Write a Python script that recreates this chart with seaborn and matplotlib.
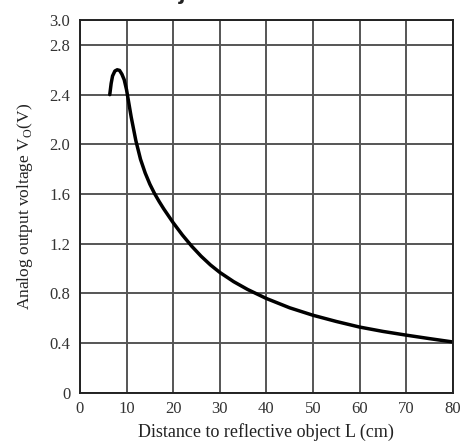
import numpy as np
import pandas as pd
import matplotlib
matplotlib.use("Agg")
import matplotlib.pyplot as plt
import seaborn as sns

distance_cm = [6.4, 6.7, 7.0, 7.5, 8.0, 8.5, 9.0, 9.5, 10, 10.5, 11, 12, 13,
               14, 15, 16, 17, 18, 20, 22, 24, 26, 28, 30, 33, 36, 40, 45, 50,
               55, 60, 65, 70, 75, 80]
voltage_v = [2.40, 2.49, 2.55, 2.59, 2.60, 2.595, 2.565, 2.52, 2.44, 2.33,
             2.22, 2.03, 1.88, 1.77, 1.68, 1.605, 1.54, 1.48, 1.37, 1.27,
             1.18, 1.10, 1.03, 0.97, 0.895, 0.832, 0.76, 0.685, 0.625, 0.575,
             0.53, 0.495, 0.465, 0.437, 0.41]

x_ticks = list(range(0, 81, 10))
y_ticks = [0, 0.4, 0.8, 1.2, 1.6, 2.0, 2.4, 2.8, 3.0]
y_tick_labels = ["0", "0.4", "0.8", "1.2", "1.6", "2.0", "2.4", "2.8", "3.0"]

sns.set_style("white")
plt.rcParams['font.family'] = ['Liberation Serif', 'DejaVu Serif']

df = pd.DataFrame({"L": distance_cm, "V": voltage_v})

fig = plt.figure(figsize=(4.62, 4.46), dpi=100)
ax = fig.add_axes([0.173, 0.119, 0.807, 0.836])

sns.lineplot(data=df, x="L", y="V", ax=ax, color="black", linewidth=2.5,
             estimator=None, sort=False)

ax.set_xlim(0, 80)
ax.set_ylim(0, 3.0)
ax.set_xticks(x_ticks)
ax.set_xticklabels([str(t) for t in x_ticks], fontsize=12, color="#333333")
ax.set_yticks(y_ticks)
ax.set_yticklabels(y_tick_labels, fontsize=12, color="#333333")
ax.tick_params(axis="x", length=0, pad=6)
ax.tick_params(axis="y", length=0, pad=7)
ax.grid(True, color="#555555", linewidth=1.4)
for s in ax.spines.values():
    s.set_color("#222222")
    s.set_linewidth(1.4)

ax.set_xlabel("Distance to reflective object L (cm)", fontsize=13, color="#222222",
              labelpad=4)
ax.set_ylabel("Analog output voltage V$_\\mathregular{O}$(V)", fontsize=12.5,
              color="#222222", labelpad=10)

# heading cut off by the top edge of the image
fig.text(0.475, 0.992, "Distance to Reflective Object", ha="right", va="bottom",
         fontsize=14, fontweight="bold", family="DejaVu Sans", color="#222222")

fig.savefig("out.png", dpi=100)
